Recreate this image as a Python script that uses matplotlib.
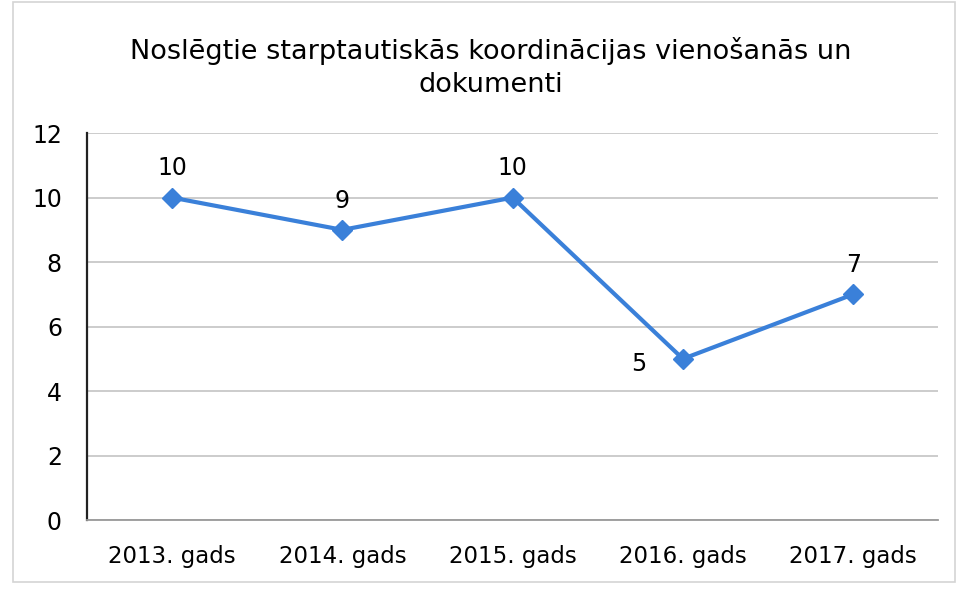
import matplotlib.pyplot as plt
from matplotlib.patches import Rectangle

## DATA
years = ['2013. gads', '2014. gads', '2015. gads', '2016. gads', '2017. gads']
counts = [10, 9, 10, 5, 7]
title = 'Noslēgtie starptautiskās koordinācijas vienošanās un\ndokumenti'

plt.rcParams['font.family'] = ['DejaVu Sans']

fig = plt.figure(figsize=(9.62, 5.89), dpi=100)
ax = fig.add_axes([0.0904, 0.117, 0.885, 0.657])

x = list(range(len(years)))
ax.plot(x, counts, color='#3a80d9', lw=3, marker='D', ms=10.5, zorder=3)

# data labels, the 2016 one sits to the left of the point
for i, v in enumerate(counts):
    if i == 3:
        ax.annotate(str(v), (i, v), xytext=(-32, -4), textcoords='offset points',
                    ha='center', va='center', fontsize=17)
    else:
        ax.annotate(str(v), (i, v), xytext=(0, 21), textcoords='offset points',
                    ha='center', va='center', fontsize=17)

ax.set_xlim(-0.5, len(years) - 0.5)
ax.set_ylim(0, 12)
ax.set_yticks(range(0, 13, 2))
ax.set_xticks(x)
ax.set_xticklabels(years, fontsize=16.5)
ax.tick_params(axis='y', labelsize=17, length=0, pad=18)
ax.tick_params(axis='x', length=0, pad=18)

ax.grid(axis='y', color='#c8c8c8', lw=1.3)
ax.set_axisbelow(True)
for s in ['top', 'right']:
    ax.spines[s].set_visible(False)
ax.spines['left'].set_color('#222222')
ax.spines['left'].set_linewidth(1.6)
ax.spines['bottom'].set_color('#999999')
ax.spines['bottom'].set_linewidth(1.3)

fig.text(0.51, 0.885, title, ha='center', va='center', fontsize=19.5,
         linespacing=1.35)

# faint outer frame of the scanned chart
fig.patches.append(Rectangle((0.013, 0.012), 0.98, 0.985, transform=fig.transFigure,
                             fill=False, edgecolor='#d4d4d4', lw=1.2))

fig.savefig('out.png', dpi=100)
